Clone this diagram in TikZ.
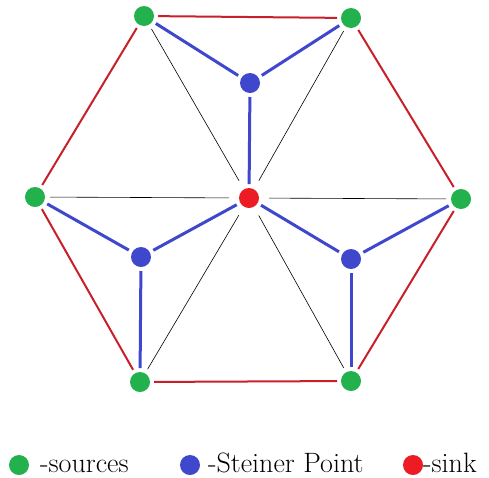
\documentclass[tikz,border=0pt]{standalone}
\definecolor{srcgreen}{HTML}{22B14C}
\definecolor{stblue}{HTML}{3F48CC}
\definecolor{sinkred}{HTML}{ED1C24}
\definecolor{edgered}{HTML}{C8202A}
\begin{document}
\begin{tikzpicture}[x=1pt,y=-1pt,
  dot/.style={circle,inner sep=0pt,minimum size=20pt,outer sep=4pt},
  source/.style={dot,fill=srcgreen},
  steiner/.style={dot,fill=stblue},
  sinknode/.style={dot,fill=sinkred},
  ring/.style={draw=edgered,line width=2pt},
  tree/.style={draw=stblue,line width=3pt},
  spoke/.style={draw=black,line width=0.6pt},
  legendtext/.style={anchor=base west,inner sep=0pt,font=\rmfamily\fontsize{28}{32}\selectfont}]
\useasboundingbox (0,0) rectangle (489,477);
% terminals, Steiner points and sink
\node[source] (tl) at (144,16) {};
\node[source] (tr) at (351,18) {};
\node[source] (l) at (35,197) {};
\node[source] (r) at (461,199) {};
\node[source] (bl) at (140,382) {};
\node[source] (br) at (351,381) {};
\node[sinknode] (c) at (249,198) {};
\node[steiner] (st) at (250,83) {};
\node[steiner] (sl) at (141,257) {};
\node[steiner] (sr) at (351,259) {};
% hexagon boundary
\draw[ring] (tl) -- (tr);
\draw[ring] (tr) -- (r);
\draw[ring] (r) -- (br);
\draw[ring] (br) -- (bl);
\draw[ring] (bl) -- (l);
\draw[ring] (l) -- (tl);
% spokes to the sink
\foreach \v in {tl,tr,l,r,bl,br} \draw[spoke,shorten <=1pt,shorten >=6pt] (\v) -- (c);
% Steiner tree
\draw[tree] (st) -- (tl);
\draw[tree] (st) -- (tr);
\draw[tree] (st) -- (c);
\draw[tree] (sl) -- (l);
\draw[tree] (sl) -- (bl);
\draw[tree] (sl) -- (c);
\draw[tree] (sr) -- (r);
\draw[tree] (sr) -- (br);
\draw[tree] (sr) -- (c);
% legend
\node[dot,fill=srcgreen] (k1) at (19,465) {};
\node[legendtext] (t1) at (40,472) {-sources};
\node[dot,fill=stblue] (k2) at (190,465) {};
\node[legendtext] (t2) at (208,472) {-Steiner Point};
\node[dot,fill=sinkred] (k3) at (413,465) {};
\node[legendtext] (t3) at (423,472) {-sink};
\end{tikzpicture}
\end{document}
